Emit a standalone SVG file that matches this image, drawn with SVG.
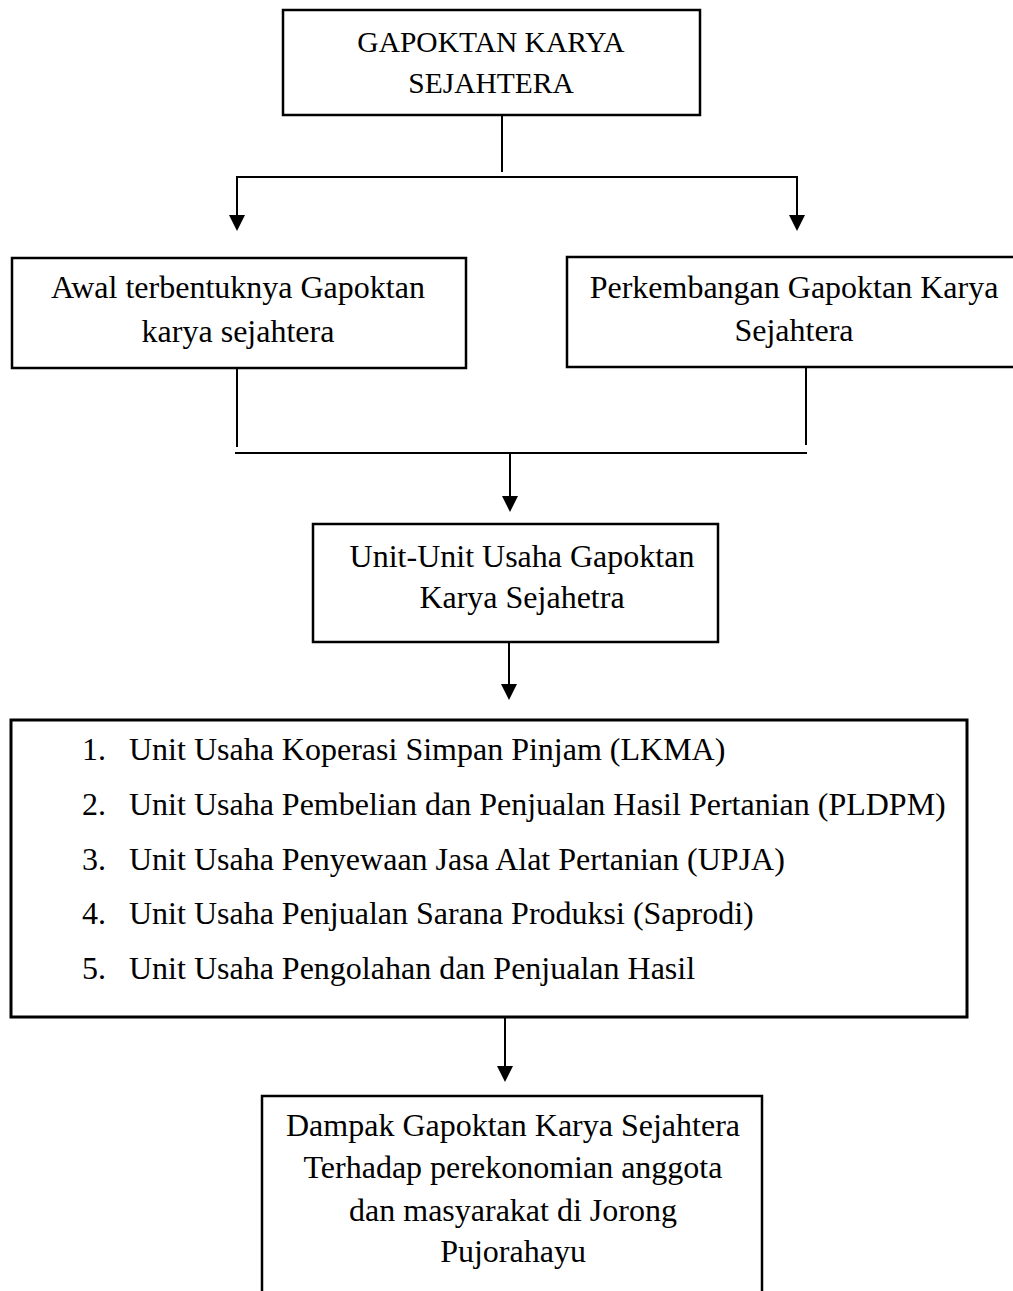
<svg xmlns="http://www.w3.org/2000/svg" width="1013" height="1291" viewBox="0 0 1013 1291">
<style>
.box{fill:#fff;stroke:#000;stroke-width:2.5}
.ln{stroke:#000;stroke-width:2;fill:none}
.t{font-family:"Liberation Serif","Times New Roman",serif;font-size:32px;fill:#000}
.c{text-anchor:middle}
</style>
<defs>
<marker id="ah" viewBox="0 0 16 16" refX="8" refY="16" markerWidth="16" markerHeight="16" markerUnits="userSpaceOnUse" orient="auto-start-reverse">
<path d="M0,0 L16,0 L8,16 Z" fill="#000"/>
</marker>
</defs>
<rect width="1013" height="1291" fill="#fff"/>
<g id="connectors">
<line class="ln" x1="502" y1="116" x2="502" y2="172"/>
<line class="ln" x1="236" y1="177" x2="798" y2="177"/>
<line class="ln" x1="237" y1="177" x2="237" y2="215"/>
<path d="M229,215 L245,215 L237,231 Z" fill="#000"/>
<line class="ln" x1="797" y1="177" x2="797" y2="215"/>
<path d="M789,215 L805,215 L797,231 Z" fill="#000"/>
<line class="ln" x1="237" y1="369" x2="237" y2="447"/>
<line class="ln" x1="806" y1="367" x2="806" y2="445"/>
<line class="ln" x1="235" y1="453" x2="807" y2="453"/>
<line class="ln" x1="510" y1="453" x2="510" y2="497"/>
<path d="M502,496 L518,496 L510,512 Z" fill="#000"/>
<line class="ln" x1="509" y1="643" x2="509" y2="685"/>
<path d="M501,684 L517,684 L509,700 Z" fill="#000"/>
<line class="ln" x1="505" y1="1018" x2="505" y2="1067"/>
<path d="M497,1066 L513,1066 L505,1082 Z" fill="#000"/>
</g>
<g id="node-gapoktan">
<rect class="box" x="283" y="10" width="417" height="105"/>
<text class="t c" x="491" y="52" style="font-size:29.5px">GAPOKTAN KARYA</text>
<text class="t c" x="491" y="93" style="font-size:29.5px">SEJAHTERA</text>
</g>
<g id="node-awal">
<rect class="box" x="12" y="258" width="454" height="110"/>
<text class="t c" x="238" y="298">Awal terbentuknya Gapoktan</text>
<text class="t c" x="238" y="342">karya sejahtera</text>
</g>
<g id="node-perkembangan">
<rect class="box" x="567" y="257" width="460" height="110"/>
<text class="t c" x="794" y="298">Perkembangan Gapoktan Karya</text>
<text class="t c" x="794" y="341">Sejahtera</text>
</g>
<g id="node-unit">
<rect class="box" x="313" y="524" width="405" height="118"/>
<text class="t c" x="522" y="567">Unit-Unit Usaha Gapoktan</text>
<text class="t c" x="522" y="608">Karya Sejahetra</text>
</g>
<g id="node-list">
<rect class="box" x="11" y="720" width="956" height="297" style="stroke-width:3"/>
<text class="t" x="82" y="760">1.</text><text class="t" x="129" y="760">Unit Usaha Koperasi Simpan Pinjam (LKMA)</text>
<text class="t" x="82" y="815">2.</text><text class="t" x="129" y="815">Unit Usaha Pembelian dan Penjualan Hasil Pertanian (PLDPM)</text>
<text class="t" x="82" y="870">3.</text><text class="t" x="129" y="870">Unit Usaha Penyewaan Jasa Alat Pertanian (UPJA)</text>
<text class="t" x="82" y="924">4.</text><text class="t" x="129" y="924">Unit Usaha Penjualan Sarana Produksi (Saprodi)</text>
<text class="t" x="82" y="979">5.</text><text class="t" x="129" y="979">Unit Usaha Pengolahan dan Penjualan Hasil</text>
</g>
<g id="node-dampak">
<rect class="box" x="262" y="1096" width="500" height="220"/>
<text class="t c" x="513" y="1136">Dampak Gapoktan Karya Sejahtera</text>
<text class="t c" x="513" y="1178">Terhadap perekonomian anggota</text>
<text class="t c" x="513" y="1221">dan masyarakat di Jorong</text>
<text class="t c" x="513" y="1262">Pujorahayu</text>
</g>
</svg>
